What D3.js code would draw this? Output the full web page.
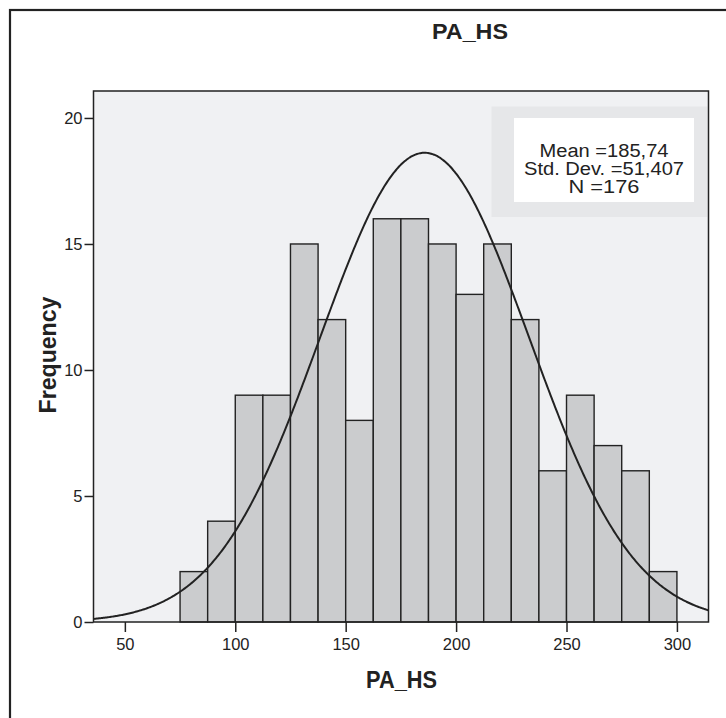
<!DOCTYPE html>
<html>
<head>
<meta charset="utf-8">
<script src="https://cdn.jsdelivr.net/npm/d3@7"></script>
<style>
  html, body { margin: 0; padding: 0; background: #fff; }
  svg { display: block; font-family: "Liberation Sans", Arial, sans-serif; }
</style>
</head>
<body>
<svg id="chart" width="726" height="718"></svg>
<script>
// ---- data ----
const binStarts = [75, 87.5, 100, 112.5, 125, 137.5, 150, 162.5, 175, 187.5, 200, 212.5, 225, 237.5, 250, 262.5, 275, 287.5];
const binWidth = 12.5;
const counts = [2, 4, 9, 9, 15, 12, 8, 16, 16, 15, 13, 15, 12, 6, 9, 7, 6, 2];
const xTicks = [50, 100, 150, 200, 250, 300];
const yTicks = [0, 5, 10, 15, 20];
const statLines = ["Mean =185,74", "Std. Dev. =51,407", "N =176"];
const curveMean = 185.74;   // centre of the fitted normal curve
const curveSd = 47.3;       // spread of the curve as drawn
const curvePeak = 18.62;    // peak height of the curve as drawn
const title = "PA_HS";
const xTitle = "PA_HS";
const yTitle = "Frequency";

// ---- layout ----
const svg = d3.select("#chart");
const plot = { left: 93.5, right: 708.5, top: 91, bottom: 622 };
const x = d3.scaleLinear().domain([35.8, 314.3]).range([plot.left, plot.right]);
const y = d3.scaleLinear().domain([0, 21.07]).range([plot.bottom, plot.top]);
const ink = "#222";

// outer frame
svg.append("rect").attr("x", 10).attr("y", 10).attr("width", 740).attr("height", 740)
  .attr("fill", "none").attr("stroke", ink).attr("stroke-width", 2.2);

// plot background
svg.append("rect").attr("x", plot.left).attr("y", plot.top)
  .attr("width", plot.right - plot.left).attr("height", plot.bottom - plot.top)
  .attr("fill", "#f0f1f3");

// legend box
const lg = svg.append("g");
lg.append("rect").attr("x", 491.5).attr("y", 106.5).attr("width", 216).attr("height", 110.5).attr("fill", "#e6e7e9");
lg.append("rect").attr("x", 514).attr("y", 118).attr("width", 180).attr("height", 84).attr("fill", "#ffffff");
lg.selectAll("text").data(statLines).join("text")
  .attr("x", 604).attr("y", (d, i) => 156.5 + i * 18.3)
  .attr("text-anchor", "middle").attr("font-size", 18).attr("fill", ink)
  .attr("textLength", (d, i) => [129, 160, 71][i]).attr("lengthAdjust", "spacingAndGlyphs")
  .text(d => d);

// bars
svg.append("g").selectAll("rect").data(counts).join("rect")
  .attr("x", (d, i) => x(binStarts[i]))
  .attr("y", d => y(d))
  .attr("width", (d, i) => x(binStarts[i] + binWidth) - x(binStarts[i]))
  .attr("height", d => y(0) - y(d))
  .attr("fill", "#cbccce").attr("stroke", ink).attr("stroke-width", 1.4);

// normal curve
const xs = d3.range(x.domain()[0], x.domain()[1] + 0.01, 0.5);
const line = d3.line()
  .x(v => x(v))
  .y(v => y(curvePeak * Math.exp(-0.5 * Math.pow((v - curveMean) / curveSd, 2))))
  .curve(d3.curveBasis);
svg.append("path").datum(xs).attr("d", line)
  .attr("fill", "none").attr("stroke", ink).attr("stroke-width", 2);

// plot border (axes)
svg.append("rect").attr("x", plot.left).attr("y", plot.top)
  .attr("width", plot.right - plot.left).attr("height", plot.bottom - plot.top)
  .attr("fill", "none").attr("stroke", ink).attr("stroke-width", 1.5);

// axes
const xAxis = d3.axisBottom(x).tickValues(xTicks).tickSize(10).tickPadding(6).tickFormat(d3.format("d"));
const gx = svg.append("g").attr("transform", `translate(0,${plot.bottom})`).call(xAxis);
const yAxis = d3.axisLeft(y).tickValues(yTicks).tickSize(9).tickPadding(2).tickFormat(d3.format("d"));
const gy = svg.append("g").attr("transform", `translate(${plot.left},0)`).call(yAxis);
[gx, gy].forEach(g => {
  g.select(".domain").remove();
  g.selectAll(".tick line").attr("stroke", ink).attr("stroke-width", 1.5);
  g.selectAll(".tick text").attr("fill", ink).attr("font-size", 16.5)
    .attr("font-family", "'Liberation Sans', Arial, sans-serif");
});

// titles
svg.append("text").attr("x", 470).attr("y", 38.5).attr("text-anchor", "middle")
  .attr("font-size", 22).attr("font-weight", "bold").attr("fill", ink)
  .attr("textLength", 76).attr("lengthAdjust", "spacingAndGlyphs").text(title);
svg.append("text").attr("x", 401.5).attr("y", 688).attr("text-anchor", "middle")
  .attr("font-size", 23).attr("font-weight", "bold").attr("fill", ink)
  .attr("textLength", 71).attr("lengthAdjust", "spacingAndGlyphs").text(xTitle);
svg.append("text").attr("transform", "translate(56,355) rotate(-90)").attr("text-anchor", "middle")
  .attr("font-size", 23).attr("font-weight", "bold").attr("fill", ink)
  .attr("textLength", 117).attr("lengthAdjust", "spacingAndGlyphs").text(yTitle);
</script>
</body>
</html>
